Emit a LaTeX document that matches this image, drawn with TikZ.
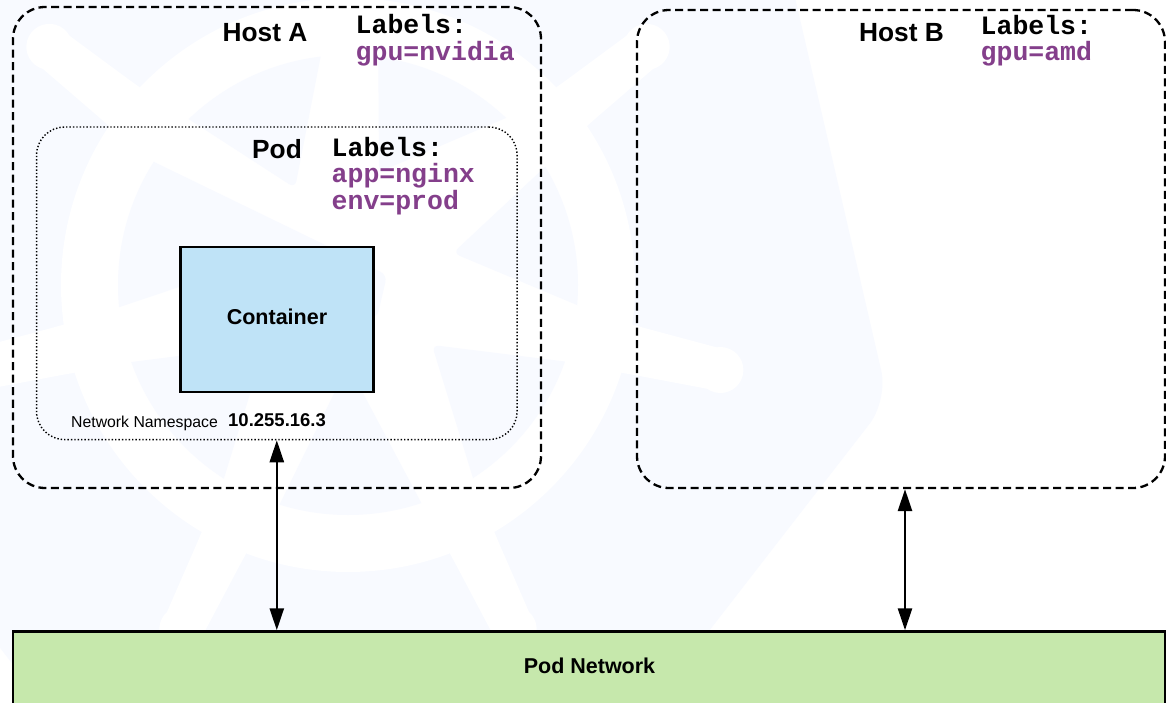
\documentclass[tikz,border=0pt]{standalone}
\usepackage{fontspec}
\setmainfont{Liberation Sans}
\setmonofont{Liberation Mono}
\usetikzlibrary{arrows.meta}
\definecolor{tint}{HTML}{F8FAFF}
\definecolor{labelpurple}{HTML}{843F8B}
\definecolor{containerblue}{HTML}{BFE3F7}
\definecolor{netgreen}{HTML}{C6E8AC}
\tikzset{
  x=1pt,y=-1pt,
  hostbox/.style={draw=black,line width=2.3pt,dash pattern=on 8pt off 4.5pt,rounded corners=32pt,inner sep=0pt,fill=none},
  podbox/.style={draw=black,line width=1.4pt,dash pattern=on 1.4pt off 2pt,rounded corners=28pt,inner sep=0pt,fill=none},
  solidbox/.style={draw=black,line width=2.5pt,inner sep=0pt},
  bigtitle/.style={anchor=base,font=\fontsize{26.3}{26.3}\selectfont\bfseries,inner sep=0pt},
  midtitle/.style={anchor=base,font=\fontsize{21.5}{21.5}\selectfont\bfseries,inner sep=0pt},
  labelhead/.style={anchor=base west,font=\fontsize{26.5}{26.5}\selectfont\ttfamily\bfseries,inner sep=0pt},
  labelval/.style={labelhead,text=labelpurple},
  netlink/.style={line width=2.6pt,{Triangle[length=22pt,width=14pt]}-{Triangle[length=22pt,width=14pt]}},
  wedgeshape/.style={fill=tint,rounded corners=7pt},
}
\begin{document}
\begin{tikzpicture}
\useasboundingbox (0,0) rectangle (1166,703);
% logo backdrop
\fill[white] (0,0) rectangle (1166,703);
\fill[tint,rounded corners=30pt] (888,400) -- (578,800) -- (118,800) -- (-192,400) -- (-100,-50) -- (348,-280) -- (784,-50) -- cycle;
\fill[white] (348,285) circle (287pt);
\begin{scope}
  \clip (348,285) circle (230pt);
  \fill[wedgeshape] (133,83) -- (295,188) -- (334,-12) -- cycle;
  \fill[wedgeshape] (378,15) -- (379,172) -- (574,89) -- cycle;
  \fill[wedgeshape] (591,124) -- (453,253) -- (639,331) -- cycle;
  \fill[wedgeshape] (633,370) -- (432,345) -- (493,543) -- cycle;
  \fill[wedgeshape] (458,572) -- (348,365) -- (245,575) -- cycle;
  \fill[wedgeshape] (205,540) -- (265,345) -- (69,370) -- cycle;
  \fill[wedgeshape] (84,128) -- (387,275) -- (377,318) -- (200,280) -- (60,327) -- cycle;
\end{scope}
\foreach \a in {90,38.57,-12.86,-64.29,-115.71,-167.14,141.43}{
  \begin{scope}[shift={(348,285)},rotate=\a]
    \fill[white] (240,-27) -- (300,-24) -- (380,-21) -- (380,21) -- (300,24) -- (240,27) -- cycle;
    \fill[white] (382,0) circle (23pt);
  \end{scope}
}
% boxes
\node[hostbox,minimum width=528pt,minimum height=481pt] (hostA) at (277,247.5) {};
\node[hostbox,minimum width=528pt,minimum height=478pt] (hostB) at (901,249) {};
\node[podbox,minimum width=480.5pt,minimum height=312.5pt] (pod) at (276.8,283.3) {};
\node[solidbox,fill=containerblue,minimum width=193pt,minimum height=145pt] (container) at (277,319.5) {};
\node[solidbox,fill=netgreen,minimum width=1152pt,minimum height=140pt] (net) at (589,701.5) {};
% titles
\node[bigtitle] (hostAtitle) at (265,41.5) {Host A};
\node[bigtitle] (hostBtitle) at (901.5,42) {Host B};
\node[bigtitle] (podtitle) at (277,158.5) {Pod};
\node[midtitle] (containertitle) at (277,324) {Container};
\node[midtitle] (nettitle) at (589.5,673) {Pod Network};
% labels
\node[labelhead] (hostAlabels) at (355.5,34) {Labels:};
\node[labelval] (hostAgpu) at (355.5,61) {gpu=nvidia};
\node[labelhead] (hostBlabels) at (980.5,35) {Labels:};
\node[labelval] (hostBgpu) at (980.5,61) {gpu=amd};
\node[labelhead] (podlabels) at (331.5,157) {Labels:};
\node[labelval] (podapp) at (331.5,183) {app=nginx};
\node[labelval] (podenv) at (331.5,210) {env=prod};
% namespace
\node[anchor=base west,inner sep=0pt,font=\fontsize{15.8}{15.8}\selectfont] (nsname) at (71,427) {Network Namespace};
\node[anchor=base west,inner sep=0pt,font=\fontsize{18.5}{18.5}\selectfont\bfseries] (nsip) at (228,426.5) {10.255.16.3};
% connectors
\draw[netlink] (pod.south) -- (pod.south |- net.north);
\draw[netlink] ([xshift=4pt]hostB.south) -- ([xshift=4pt]hostB.south |- net.north);
\end{tikzpicture}
\end{document}
